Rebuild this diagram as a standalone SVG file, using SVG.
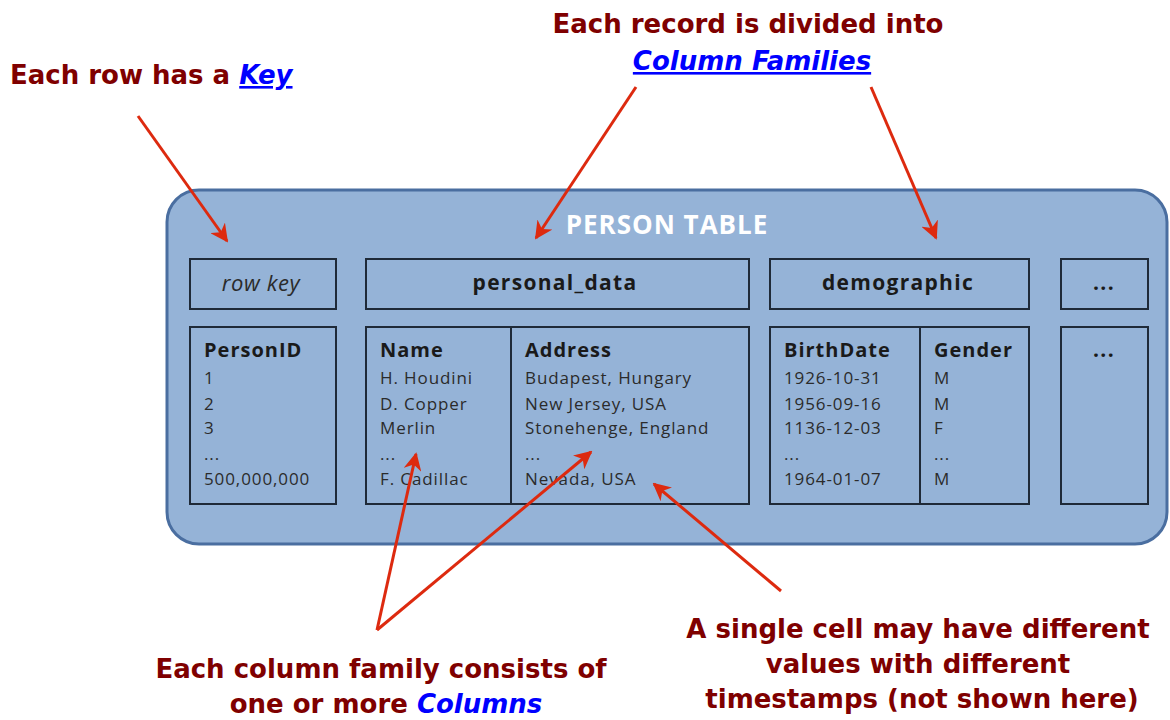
<svg xmlns="http://www.w3.org/2000/svg" width="1170" height="720" viewBox="0 0 1170 720">
  <defs>
    <marker id="head" viewBox="0 0 10 10" refX="9" refY="5" markerWidth="6" markerHeight="6" orient="auto" markerUnits="strokeWidth">
      <path d="M0,0 L10,5 L0,10 L3,5 Z" fill="#dd2a0f"/>
    </marker>
    <style>
      .note { font-family: "DejaVu Sans", "Liberation Sans", sans-serif; font-weight: bold; font-size: 26px; fill: #7f0000; }
      .link { fill: #0000ff; font-style: italic; }
      .panel { fill: #95b3d7; stroke: #4a6ea0; stroke-width: 3; }
      .box { fill: #95b3d7; stroke: #1f2a38; stroke-width: 2; }
      .cf { font-family: "Open Sans", "Liberation Sans", sans-serif; font-weight: bold; font-size: 21px; letter-spacing: 1.3px; fill: #1a1a1a; }
      .col { font-family: "Open Sans", "Liberation Sans", sans-serif; font-weight: bold; font-size: 20px; letter-spacing: 1px; fill: #1a1a1a; }
      .cell { font-family: "Open Sans", "Liberation Sans", sans-serif; font-size: 17px; letter-spacing: 0.9px; fill: #2b2b2b; }
      .arrow { stroke: #dd2a0f; stroke-width: 3; fill: none; marker-end: url(#head); }
    </style>
  </defs>

  <!-- table panel -->
  <g id="person-table">
    <rect class="panel" x="167" y="190" width="1000" height="354" rx="32"/>
    <text x="667" y="234" text-anchor="middle" font-family="'Open Sans', 'Liberation Sans', sans-serif" font-weight="bold" font-size="26" fill="#ffffff" letter-spacing="1">PERSON  TABLE</text>
  </g>

  <!-- header row: row key and column families -->
  <g id="hdr-rowkey">
    <rect class="box" x="190" y="259" width="146" height="50"/>
    <text x="261" y="291" text-anchor="middle" font-family="'Open Sans', 'Liberation Sans', sans-serif" font-style="italic" font-size="22" letter-spacing="0.6" fill="#2b2b2b">row key</text>
  </g>
  <g id="hdr-personal">
    <rect class="box" x="366" y="259" width="383" height="50"/>
    <text class="cf" x="555" y="290" text-anchor="middle">personal_data</text>
  </g>
  <g id="hdr-demographic">
    <rect class="box" x="770" y="259" width="259" height="50"/>
    <text class="cf" x="898" y="290" text-anchor="middle">demographic</text>
  </g>
  <g id="hdr-more">
    <rect class="box" x="1061" y="259" width="87" height="50"/>
    <text class="cf" x="1104" y="290" text-anchor="middle">...</text>
  </g>

  <!-- data blocks -->
  <g id="data-rowkey">
    <rect class="box" x="190" y="327" width="146" height="177"/>
    <text class="col" x="204" y="357">PersonID</text>
    <text class="cell" x="204" y="384">1</text>
    <text class="cell" x="204" y="410">2</text>
    <text class="cell" x="204" y="434">3</text>
    <text class="cell" x="204" y="460">...</text>
    <text class="cell" x="204" y="485">500,000,000</text>
  </g>
  <g id="data-personal">
    <rect class="box" x="366" y="327" width="383" height="177"/>
    <line x1="511" y1="327" x2="511" y2="504" stroke="#1f2a38" stroke-width="2"/>
    <text class="col" x="380" y="357">Name</text>
    <text class="cell" x="380" y="384">H. Houdini</text>
    <text class="cell" x="380" y="410">D. Copper</text>
    <text class="cell" x="380" y="434">Merlin</text>
    <text class="cell" x="380" y="460">...</text>
    <text class="cell" x="380" y="485">F. Cadillac</text>
    <text class="col" x="525" y="357">Address</text>
    <text class="cell" x="525" y="384">Budapest, Hungary</text>
    <text class="cell" x="525" y="410">New Jersey, USA</text>
    <text class="cell" x="525" y="434">Stonehenge, England</text>
    <text class="cell" x="525" y="460">...</text>
    <text class="cell" x="525" y="485">Nevada, USA</text>
  </g>
  <g id="data-demographic">
    <rect class="box" x="770" y="327" width="259" height="177"/>
    <line x1="920" y1="327" x2="920" y2="504" stroke="#1f2a38" stroke-width="2"/>
    <text class="col" x="784" y="357">BirthDate</text>
    <text class="cell" x="784" y="384">1926-10-31</text>
    <text class="cell" x="784" y="410">1956-09-16</text>
    <text class="cell" x="784" y="434">1136-12-03</text>
    <text class="cell" x="784" y="460">...</text>
    <text class="cell" x="784" y="485">1964-01-07</text>
    <text class="col" x="934" y="357">Gender</text>
    <text class="cell" x="934" y="384">M</text>
    <text class="cell" x="934" y="410">M</text>
    <text class="cell" x="934" y="434">F</text>
    <text class="cell" x="934" y="460">...</text>
    <text class="cell" x="934" y="485">M</text>
  </g>
  <g id="data-more">
    <rect class="box" x="1061" y="327" width="87" height="177"/>
    <text class="cf" x="1104" y="357" text-anchor="middle">...</text>
  </g>

  <!-- callouts -->
  <g id="note-key">
    <text class="note" x="10" y="84">Each row has a <tspan class="link" text-decoration="underline">Key</tspan></text>
  </g>
  <g id="note-families">
    <text class="note" x="748" y="33" text-anchor="middle">Each record is divided into</text>
    <text class="note link" x="752" y="70" text-anchor="middle" text-decoration="underline">Column Families</text>
  </g>
  <g id="note-columns">
    <text class="note" x="381" y="678" text-anchor="middle">Each column family consists of</text>
    <text class="note" x="386" y="713" text-anchor="middle">one or more <tspan class="link">Columns</tspan></text>
  </g>
  <g id="note-timestamps">
    <text class="note" x="918" y="638" text-anchor="middle">A single cell may have different</text>
    <text class="note" x="918" y="673" text-anchor="middle">values with different</text>
    <text class="note" x="922" y="708" text-anchor="middle">timestamps (not shown here)</text>
  </g>

  <!-- connectors -->
  <g id="connectors">
    <line class="arrow" x1="138" y1="116" x2="227" y2="241"/>
    <line class="arrow" x1="636" y1="87" x2="536" y2="238"/>
    <line class="arrow" x1="871" y1="87" x2="936" y2="238"/>
    <line class="arrow" x1="377" y1="630" x2="416" y2="454"/>
    <line class="arrow" x1="377" y1="630" x2="591" y2="452"/>
    <line class="arrow" x1="781" y1="591" x2="654" y2="484"/>
  </g>
</svg>
